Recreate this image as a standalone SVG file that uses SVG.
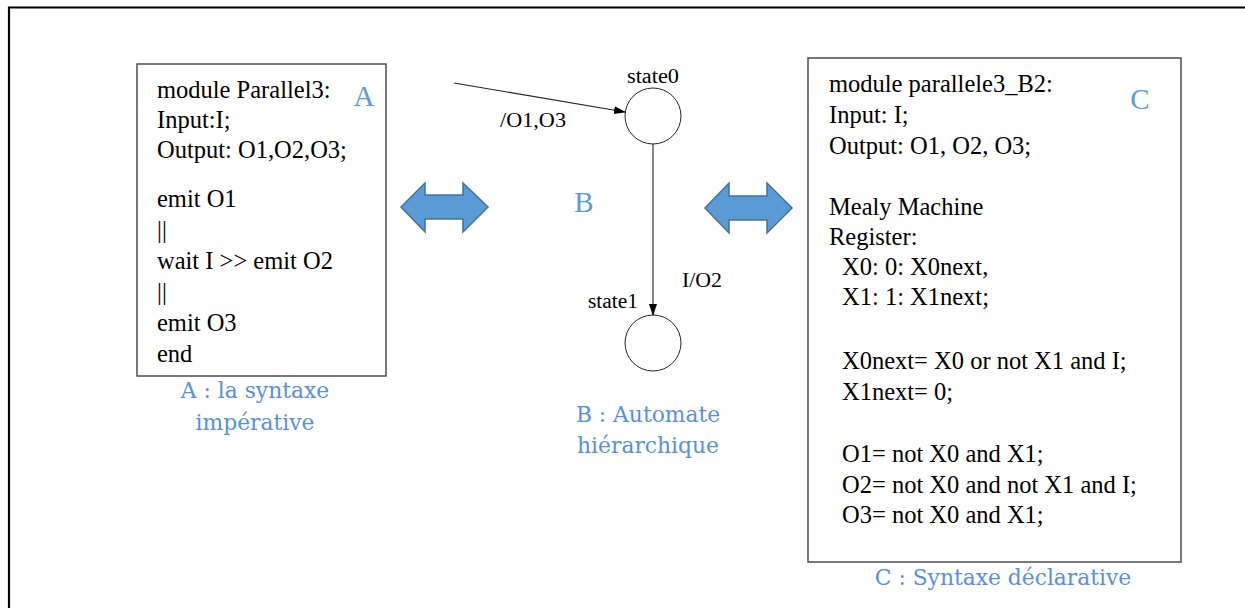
<svg xmlns="http://www.w3.org/2000/svg" width="1245" height="608" viewBox="0 0 1245 608">
  <style>
    .code { font-family: "Liberation Serif", "Times New Roman", serif; font-size: 24.5px; fill: #000; }
    .box { fill: #fff; stroke: #3f3f3f; stroke-width: 1.4; }
    .tag { font-family: "Liberation Serif", "Times New Roman", serif; font-size: 29px; fill: #5b9bd5; }
    .cap { font-family: "DejaVu Serif", "Liberation Serif", serif; font-size: 21.8px; fill: #5b8fd6; text-anchor: middle; }
    .st { font-family: "Liberation Serif", "Times New Roman", serif; font-size: 20px; fill: #000; }
    .circ { fill: none; stroke: #222; stroke-width: 1; }
    .edge { fill: none; stroke: #222; stroke-width: 1.1; }
    .dbl { fill: #5b9bd5; stroke: #41719c; stroke-width: 1.5; stroke-linejoin: miter; }
    .frame { stroke: #000; stroke-width: 2.2; fill: none; }
  </style>
  <defs>
    <marker id="ah" markerWidth="12" markerHeight="10" refX="11" refY="4" orient="auto" markerUnits="userSpaceOnUse">
      <path d="M0,0 L12,4 L0,8 Z" fill="#000"/>
    </marker>
  </defs>
  <rect width="1245" height="608" fill="#fff"/>
  <path class="frame" d="M9,608 V7.5 H1245"/>

  <g id="boxA">
    <rect class="box" x="137" y="64" width="249" height="312"/>
    <text class="code" x="157" y="98">module Parallel3:</text>
    <text class="code" x="157" y="128">Input:I;</text>
    <text class="code" x="157" y="158">Output: O1,O2,O3;</text>
    <text class="code" x="157" y="207">emit O1</text>
    <text class="code" x="157" y="238">||</text>
    <text class="code" x="157" y="269">wait I &gt;&gt; emit O2</text>
    <text class="code" x="157" y="300">||</text>
    <text class="code" x="157" y="331">emit O3</text>
    <text class="code" x="157" y="362">end</text>
    <text class="tag" x="364" y="106" text-anchor="middle">A</text>
  </g>
  <g id="captionA">
    <text class="cap" x="255" y="398">A : la syntaxe</text>
    <text class="cap" x="255" y="430">impérative</text>
  </g>

  <g id="arrowAB">
    <path class="dbl" d="M401,207 L425,183 L425,195 L463,195 L463,183 L488,207 L463,232 L463,219 L425,219 L425,232 Z"/>
  </g>
  <g id="arrowBC">
    <path class="dbl" d="M705,208 L729,183 L729,196 L767,196 L767,183 L792,208 L767,233 L767,220 L729,220 L729,233 Z"/>
  </g>

  <g id="labelB">
    <text class="tag" x="584" y="212" text-anchor="middle">B</text>
  </g>
  <g id="state0">
    <circle class="circ" cx="653" cy="116" r="28"/>
    <text class="st" x="627" y="83" textLength="52" lengthAdjust="spacingAndGlyphs">state0</text>
  </g>
  <g id="state1">
    <circle class="circ" cx="653" cy="343" r="28"/>
    <text class="st" x="588" y="308" textLength="50" lengthAdjust="spacingAndGlyphs">state1</text>
  </g>
  <g id="connectors">
    <line class="edge" x1="454" y1="83" x2="625" y2="112" marker-end="url(#ah)"/>
    <text class="st" x="500" y="127" textLength="66" lengthAdjust="spacingAndGlyphs">/O1,O3</text>
    <line class="edge" x1="653" y1="144" x2="653" y2="315" marker-end="url(#ah)"/>
    <text class="st" x="682" y="287" textLength="40" lengthAdjust="spacingAndGlyphs">I/O2</text>
  </g>
  <g id="captionB">
    <text class="cap" x="648" y="422">B : Automate</text>
    <text class="cap" x="648" y="453">hiérarchique</text>
  </g>

  <g id="boxC">
    <rect class="box" x="808" y="58" width="373" height="504"/>
    <text class="code" x="829" y="92">module parallele3_B2:</text>
    <text class="code" x="829" y="123">Input: I;</text>
    <text class="code" x="829" y="154">Output: O1, O2, O3;</text>
    <text class="code" x="829" y="215">Mealy Machine</text>
    <text class="code" x="829" y="245">Register:</text>
    <text class="code" x="842" y="275">X0: 0: X0next,</text>
    <text class="code" x="842" y="305">X1: 1: X1next;</text>
    <text class="code" x="842" y="369">X0next= X0 or not X1 and I;</text>
    <text class="code" x="842" y="400">X1next= 0;</text>
    <text class="code" x="842" y="462">O1= not X0 and X1;</text>
    <text class="code" x="842" y="493">O2= not X0 and not X1 and I;</text>
    <text class="code" x="842" y="523">O3= not X0 and X1;</text>
    <text class="tag" x="1140" y="109" text-anchor="middle">C</text>
  </g>
  <g id="captionC">
    <text class="cap" x="1003" y="585">C : Syntaxe déclarative</text>
  </g>
</svg>
